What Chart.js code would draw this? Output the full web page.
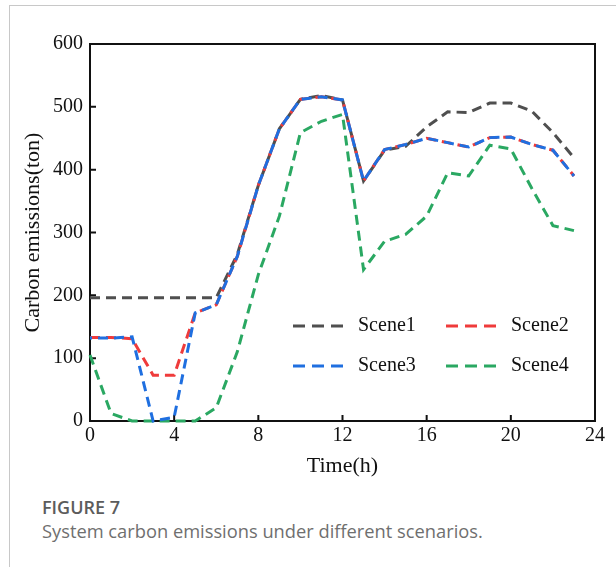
<!DOCTYPE html>
<html>
<head>
<meta charset="utf-8">
<script src="https://cdn.jsdelivr.net/npm/chart.js@4.4.1/dist/chart.umd.min.js"></script>
<style>
    body { margin: 0; background: #fff; }
    #frame {
        position: absolute; left: 9px; top: 5px; width: 620px; height: 580px;
        border-top: 1px solid #c8c8c8; border-left: 1px solid #c8c8c8;
    }
    #wrap { position: absolute; left: 0; top: 0; width: 616px; height: 480px; }
    .cap { position: absolute; left: 42px; font-family: "Open Sans", sans-serif; color: #6f6f6f; white-space: nowrap; }
    #capTitle { top: 495px; font-size: 18px; font-weight: 600; color: #5c5c5c; }
    #capText { top: 518px; font-size: 18.3px; }
</style>
</head>
<body>
<div id="frame"></div>
<div id="wrap"><canvas id="emissionChart"></canvas></div>
<div class="cap" id="capTitle">FIGURE 7</div>
<div class="cap" id="capText">System carbon emissions under different scenarios.</div>
<script>
// hours 0..23
const hours = [0, 1, 2, 3, 4, 5, 6, 7, 8, 9, 10, 11, 12, 13, 14, 15, 16, 17, 18, 19, 20, 21, 22, 23];
const scene1 = [196, 196, 196, 196, 196, 196, 196, 265, 375, 465, 512, 518, 511, 382, 431, 437, 468, 492, 491, 506, 506, 493, 459, 419];
const scene2 = [133, 133, 131, 73, 73, 172, 185, 262, 375, 465, 512, 516, 511, 382, 432, 440, 450, 443, 436, 451, 452, 440, 431, 390];
const scene3 = [132, 132, 134, 0, 6, 172, 185, 262, 375, 465, 512, 516, 511, 382, 432, 440, 450, 443, 436, 451, 452, 440, 431, 390];
const scene4 = [105, 12, 0, 0, 0, 0, 21, 110, 233, 326, 459, 477, 488, 241, 286, 297, 326, 395, 390, 439, 433, 370, 311, 303];
const seriesNames = ['Scene1', 'Scene2', 'Scene3', 'Scene4'];
const seriesColors = ['#4f4f4f', '#ef3b3b', '#1f6fe0', '#2aa862'];
const xTicks = [0, 4, 8, 12, 16, 20, 24];
const yTicks = [0, 100, 200, 300, 400, 500, 600];

const serif = '"Liberation Serif", "Times New Roman", serif';

function toPoints(values) {
    return values.map((v, i) => ({ x: hours[i], y: v }));
}

// frame + inward ticks
const framePlugin = {
    id: 'frame',
    beforeDatasetsDraw(chart) {
        const { ctx, chartArea: a, scales } = chart;
        ctx.save();
        ctx.strokeStyle = '#111';
        ctx.lineWidth = 2;
        ctx.strokeRect(a.left, a.top, a.right - a.left, a.bottom - a.top);
        ctx.beginPath();
        xTicks.slice(1, -1).forEach(t => {
            const px = scales.x.getPixelForValue(t);
            ctx.moveTo(px, a.bottom);
            ctx.lineTo(px, a.bottom - 6);
        });
        yTicks.slice(1, -1).forEach(t => {
            const py = scales.y.getPixelForValue(t);
            ctx.moveTo(a.left, py);
            ctx.lineTo(a.left + 6, py);
        });
        ctx.stroke();
        ctx.restore();
    }
};

// legend drawn inside the plot, two columns
const innerLegend = {
    id: 'innerLegend',
    afterDraw(chart) {
        const { ctx, chartArea: a } = chart;
        ctx.save();
        ctx.font = '20px ' + serif;
        ctx.textBaseline = 'middle';
        chart.data.datasets.forEach((ds, i) => {
            const col = i % 2, row = Math.floor(i / 2);
            const x0 = a.left + (col === 0 ? 203 : 356);
            const y0 = a.top + 282 + row * 40;
            ctx.strokeStyle = ds.borderColor;
            ctx.lineWidth = 3;
            ctx.setLineDash([12, 7]);
            ctx.beginPath();
            ctx.moveTo(x0, y0);
            ctx.lineTo(x0 + 50, y0);
            ctx.stroke();
            ctx.setLineDash([]);
            ctx.fillStyle = '#111';
            ctx.fillText(ds.label, x0 + 65, y0);
        });
        ctx.restore();
    }
};

const datasets = [scene1, scene2, scene3, scene4].map((vals, i) => ({
    label: seriesNames[i],
    data: toPoints(vals),
    borderColor: seriesColors[i],
    borderWidth: 3,
    borderDash: [10, 6],
    borderDashOffset: i === 2 ? 8 : 0,
    pointRadius: 0,
    fill: false,
    tension: 0,
    clip: false,
    order: [3, 2, 1, 4][i]
}));

new Chart(document.getElementById('emissionChart'), {
    type: 'line',
    data: { datasets: datasets },
    options: {
        responsive: true,
        maintainAspectRatio: false,
        animation: false,
        layout: { padding: { left: 0, top: 44, right: 21, bottom: 0 } },
        plugins: { legend: { display: false }, tooltip: { enabled: false } },
        scales: {
            x: {
                type: 'linear',
                min: 0, max: 24,
                afterBuildTicks: s => { s.ticks = xTicks.map(v => ({ value: v })); },
                afterFit: s => { s.height = 59; },
                grid: { display: false, drawTicks: false },
                border: { display: false },
                ticks: { color: '#111', font: { family: serif, size: 20 }, padding: 3, maxRotation: 0 },
                title: { display: true, text: 'Time(h)', color: '#111', font: { family: serif, size: 22 }, padding: { top: 0, bottom: 1 } }
            },
            y: {
                min: 0, max: 600,
                afterBuildTicks: s => { s.ticks = yTicks.map(v => ({ value: v })); },
                afterFit: s => { s.width = 90; },
                grid: { display: false, drawTicks: false },
                border: { display: false },
                ticks: { color: '#111', font: { family: serif, size: 20 }, padding: 7 },
                title: { display: true, text: 'Carbon emissions(ton)', color: '#111', font: { family: serif, size: 22 }, padding: { top: 20, bottom: 0 } }
            }
        }
    },
    plugins: [framePlugin, innerLegend]
});
</script>
</body>
</html>
